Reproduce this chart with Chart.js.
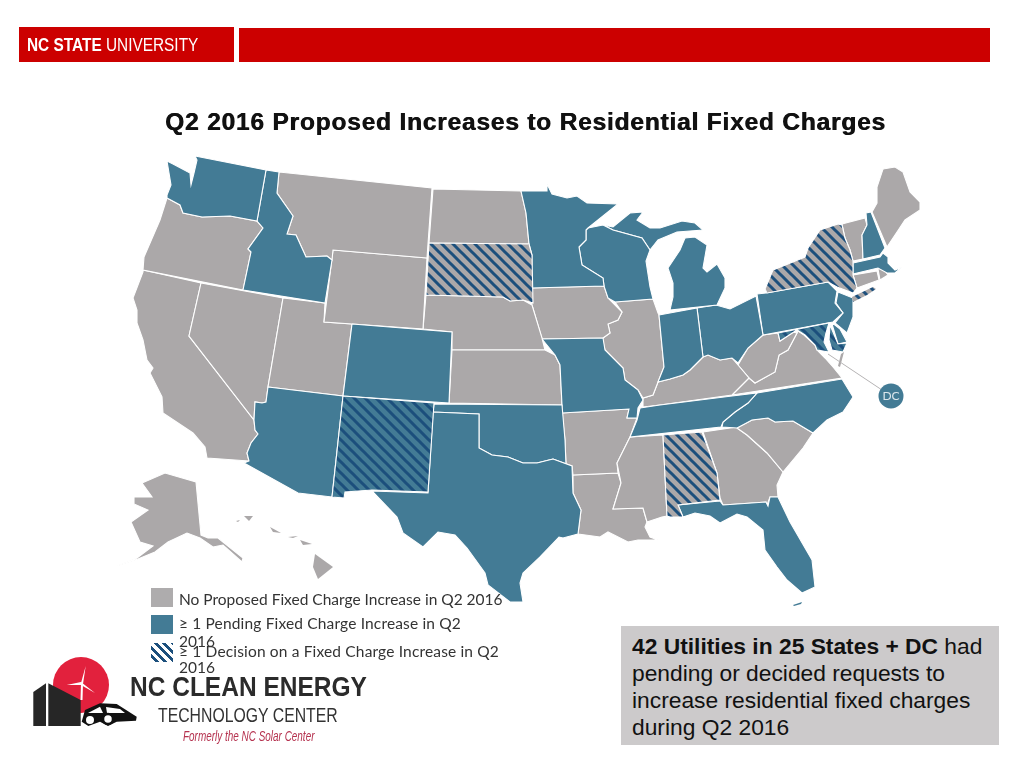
<!DOCTYPE html>
<html>
<head>
<meta charset="utf-8">
<title>Q2 2016 Proposed Increases to Residential Fixed Charges</title>
<script src="https://cdn.jsdelivr.net/npm/chart.js@4/dist/chart.umd.min.js"></script>
<style>
    html, body { margin: 0; padding: 0; background: #fff; }
    #page { position: relative; width: 1024px; height: 768px; overflow: hidden; }
    #page > * { position: absolute; }
    canvas { left: 0; top: 0; }
    .bar { background: #cc0000; }
    .txt { white-space: nowrap; line-height: 1; transform-origin: left top; }
    #title { left: 165px; top: 108px; font: bold 24.5px "Liberation Sans", Arial, sans-serif; letter-spacing: 0.8px; color: #111; text-shadow: 0.6px 0 0 #111; }
    #ncsu { left: 27px; top: 35px; font: 18px "Liberation Sans", sans-serif; color: #fff; transform: scaleX(0.855); }
    .legendText { left: 179px; font: 15.5px Lato, sans-serif; color: #333; }
    .swatch { left: 151px; width: 22px; height: 19px; }
    #callout { left: 621px; top: 626px; width: 378px; height: 119px; background: #cccacb; }
    .calloutLine { left: 632px; font: 22.8px "Liberation Sans", Arial, sans-serif; color: #111; }
    #logo { left: 0; top: 640px; }
    #cleanEnergy { left: 130px; top: 671px; font: bold 28px "Liberation Sans", sans-serif; color: #2b2b2b; transform: scaleX(0.875); }
    #techCenter { left: 158px; top: 704px; font: 20px "Liberation Sans", sans-serif; color: #333; transform: scaleX(0.79); }
    #formerly { left: 183px; top: 728px; font: italic 14px "Liberation Sans", sans-serif; color: #b5324f; transform: scaleX(0.71); }
</style>
</head>
<body>
<div id="page">
    <canvas id="map" width="1024" height="768"></canvas>
    <div class="bar" style="left:19px;top:27px;width:215px;height:35px"></div>
    <div class="bar" style="left:239px;top:28px;width:751px;height:34px"></div>
    <div class="txt" id="ncsu"><b>NC STATE</b> UNIVERSITY</div>
    <div class="txt" id="title"></div>
    <div class="swatch" style="top:588px;background:#aeacad"></div>
    <div class="swatch" style="top:615px;background:#437b95"></div>
    <div class="swatch" style="top:643px;background:repeating-linear-gradient(45deg,#fff 0 3px,#1c4f7c 3px 6px)"></div>
    <div id="callout"></div>
    <svg id="logo" width="145" height="100" viewBox="0 640 145 100">
        <circle cx="81" cy="685" r="28" fill="#e2213d"/>
        <polygon points="33.3,692 46,683.3 46,726 33.3,726" fill="#262626"/>
        <polygon points="48.3,683.3 80.7,700 80.7,726 48.3,726" fill="#262626"/>
        <polygon points="80.5,700 81,683 85.7,666 83,684 82.5,700" fill="#fff"/>
        <polygon points="66.7,685 81,682 95,693 81,685" fill="#fff"/>
        <path d="M81.7 721.7 L85 710 L100 703.3 L116.7 704 L136.7 716.7 L136 720.7 L116.7 721.7 L108 726 L100 721.7 L88.3 726 Z" fill="#111"/>
        <path d="M88 713 L100 706.7 L103 713 Z M106 707 L120 709 L125 713 L107 713 Z" fill="#fff"/>
        <circle cx="90" cy="720" r="4" fill="#fff"/>
        <circle cx="108" cy="719" r="5" fill="#fff" stroke="#111" stroke-width="2.5"/>
    </svg>
    <div class="txt" id="cleanEnergy">NC CLEAN ENERGY</div>
    <div class="txt" id="techCenter">TECHNOLOGY CENTER</div>
    <div class="txt" id="formerly">Formerly the NC Solar Center</div>
</div>
<script>
// state outlines (map units = picture pixels)
const WA = [[195,156],[266,170],[257,221],[230,216],[202,217],[183,213],[180,205],[167,198],[167,195],[171,185],[167,161],[173,164],[190,173],[191,185],[194,173],[197,160]];
const ID = [[266,170],[279,172],[277,193],[293,216],[287,234],[296,235],[306,257],[327,256],[332,260],[325,303],[243,290],[251,252],[248,249],[263,228],[257,221]];
const OR = [[167,198],[180,205],[183,213],[202,217],[230,216],[257,221],[263,228],[248,249],[251,252],[243,290],[143,270],[144,257],[160,220]];
const MT = [[279,172],[432,188],[427,258],[333,250],[332,260],[327,256],[306,257],[296,235],[287,234],[293,216],[277,193]];
const WY = [[333,250],[427,258],[423,329],[324,322]];
const UT = [[283,298],[325,303],[324,322],[352,324],[343,396],[268,387]];
const NV = [[201,283],[283,298],[268,387],[266,402],[262,403],[255,402],[254,420],[189,336]];
const CA = [[143,270],[201,283],[189,336],[254,420],[255,430],[258,434],[251,443],[247,453],[249,461],[207,458],[205,447],[193,433],[163,413],[162,397],[150,373],[153,368],[147,360],[143,340],[137,323],[137,310],[133,298],[143,272]];
const AZ = [[268,387],[343,396],[332,497],[298,493],[244,463],[249,461],[247,453],[251,443],[258,434],[255,430],[254,420],[255,402],[262,403],[266,402]];
const CO = [[352,324],[452,332],[449,403],[343,396]];
const NM = [[343,396],[434,403],[428,492],[372,490],[345,492],[344,498],[332,497]];
const TX = [[433,412],[479,414],[479,448],[492,455],[508,457],[523,463],[537,463],[553,459],[572,466],[573,493],[581,510],[578,534],[563,538],[559,537],[540,557],[523,573],[520,583],[523,602],[510,602],[488,585],[485,573],[467,548],[455,535],[438,532],[423,547],[403,533],[397,517],[372,491],[428,493]];
const OK = [[434,404],[562,405],[565,440],[566,465],[572,466],[553,459],[537,463],[523,463],[508,457],[492,455],[479,448],[479,414],[433,412]];
const KS = [[452,350],[545,350],[555,355],[560,365],[562,405],[449,403]];
const NE = [[426,295],[503,297],[510,301],[523,300],[532,305],[542,338],[545,350],[452,350],[452,332],[423,329]];
const SD = [[429,243],[529,244],[532,255],[533,303],[523,300],[510,301],[503,297],[426,295]];
const ND = [[433,189],[521,191],[526,213],[529,244],[429,243]];
const MN = [[521,191],[547,191],[547,184],[552,194],[567,198],[577,196],[587,203],[618,204],[588,228],[586,230],[586,240],[579,247],[582,265],[603,278],[604,286],[531,288],[532,255],[529,244],[526,213]];
const IA = [[531,288],[604,286],[608,298],[622,312],[618,320],[608,324],[610,333],[603,338],[542,339],[532,305]];
const WI = [[588,228],[603,225],[613,230],[642,238],[650,250],[646,261],[650,287],[653,299],[615,302],[608,298],[604,286],[603,278],[582,265],[579,247],[586,240],[586,230]];
const MIU = [[603,225],[613,227],[630,213],[643,212],[637,220],[650,228],[660,228],[682,221],[695,223],[703,230],[677,232],[658,240],[650,250],[642,238],[613,230]];
const MIL = [[685,238],[695,237],[707,245],[703,268],[707,272],[717,264],[725,278],[725,288],[717,305],[670,310],[673,297],[673,283],[668,268],[680,250]];
const IL = [[615,302],[653,299],[658,313],[659,315],[664,367],[658,382],[653,395],[643,398],[638,390],[625,380],[623,368],[605,350],[603,342],[603,338],[610,333],[608,324],[618,320],[622,312]];
const IN = [[659,315],[697,308],[703,357],[690,370],[683,375],[670,379],[658,382],[664,367]];
const OH = [[697,308],[716,305],[730,309],[756,296],[763,335],[748,348],[738,363],[732,358],[720,360],[708,355],[703,357]];
const KY = [[708,355],[720,360],[732,358],[738,365],[749,378],[732,395],[660,405],[643,407],[643,398],[653,395],[658,382],[670,379],[683,375],[690,370],[703,357]];
const WV = [[763,335],[778,333],[780,341],[793,332],[797,333],[788,350],[779,355],[775,372],[755,383],[749,378],[738,365],[748,348]];
const VA = [[798,331],[804,335],[815,345],[817,350],[825,358],[833,367],[842,378],[732,395],[749,378],[755,383],[775,372],[779,355],[788,350],[797,333]];
const TN = [[640,408],[660,405],[732,396],[757,393],[748,403],[735,412],[723,422],[721,427],[630,437],[637,420]];
const NC = [[757,393],[842,379],[853,397],[843,412],[827,420],[813,433],[793,421],[775,422],[768,418],[752,420],[737,428],[722,427],[723,422],[735,412],[748,403]];
const SC = [[737,428],[752,420],[768,418],[775,422],[793,421],[813,433],[803,448],[783,472],[767,453],[747,435]];
const GA = [[703,432],[737,427],[737,428],[747,435],[767,453],[783,472],[777,485],[778,497],[770,497],[767,505],[766,502],[723,505],[720,498],[717,473]];
const AL = [[663,435],[702,432],[717,473],[720,500],[678,505],[683,517],[670,517],[667,516]];
const FL = [[678,505],[720,501],[723,505],[766,502],[768,506],[770,497],[778,497],[790,522],[812,560],[815,587],[802,593],[787,580],[777,567],[765,550],[763,530],[747,517],[737,514],[720,523],[710,516],[695,513],[683,517]];
const KEYS = [[793,605],[802,602],[801,604],[794,606]];
const MS = [[630,437],[663,435],[667,516],[662,517],[647,522],[643,508],[613,509],[621,483],[617,463]];
const AR = [[562,413],[629,409],[627,418],[637,418],[630,437],[617,463],[618,473],[573,475],[572,466],[566,465],[565,440]];
const LA = [[573,475],[618,473],[621,483],[613,509],[643,508],[647,522],[645,527],[650,537],[658,540],[638,540],[628,542],[608,532],[600,537],[578,534],[581,510],[573,493]];
const MO = [[542,339],[603,338],[605,350],[623,368],[625,380],[638,390],[643,400],[638,408],[637,418],[627,418],[629,409],[562,413],[562,405],[560,365],[555,355]];
const ME = [[883,169],[895,167],[903,172],[910,192],[920,202],[920,210],[905,220],[897,232],[887,247],[872,212],[877,203],[877,187]];
const NH = [[866,213],[871,212],[885,248],[880,255],[863,259],[862,235],[867,225]];
const VT = [[842,224],[865,218],[867,225],[862,235],[863,259],[853,261],[850,250],[845,238]];
const MA = [[853,263],[880,257],[883,253],[888,257],[888,263],[895,270],[902,267],[895,273],[887,273],[878,268],[853,274]];
const RI = [[878,269],[883,268],[888,275],[880,280]];
const CT = [[853,275],[877,271],[879,280],[857,288]];
const NY = [[838,224],[842,225],[845,238],[850,250],[853,261],[853,275],[857,288],[853,293],[837,287],[828,282],[767,293],[765,289],[773,270],[783,266],[805,257],[808,248],[820,230]];
const LI = [[852,297],[873,287],[876,289],[867,295],[853,302]];
const PA = [[757,294],[766,293],[828,282],[837,291],[835,303],[843,313],[833,322],[763,335]];
const NJ = [[838,292],[853,298],[853,317],[847,333],[835,323],[843,313],[836,303]];
const DE = [[832,324],[835,325],[840,329],[847,342],[838,344]];
const MDW = [[778,333],[829,323],[826,333],[824,342],[829,352],[817,350],[815,345],[805,335],[797,330],[780,341]];
const MDE = [[830,325],[838,344],[847,343],[843,352],[832,350],[829,340]];
const VAE = [[844,352],[840,367],[838,366],[841,354]];
const AK = [[142,483],[165,473],[196,482],[201,535],[208,538],[218,538],[243,558],[242,562],[223,545],[213,547],[200,538],[187,533],[168,542],[155,552],[138,559],[117,566],[137,558],[153,546],[140,542],[131,522],[148,510],[134,504],[134,497],[152,497]];
const HI1 = [[315,554],[333,567],[318,579],[313,567]];
const HI2 = [[300,540],[312,544],[303,545]];
const HI3 = [[270,527],[281,533],[273,532]];
const HI4 = [[244,516],[253,516],[249,521]];
const HI5 = [[236,521],[240,520],[238,522]];
const HI6 = [[288,537],[298,536],[293,538]];

const noIncrease = [OR, MT, WY, UT, NV, CA, KS, NE, ND, IA, IL, KY, WV, VA, SC, GA, MS, AR, LA, ME, VT, RI, CT, AK];
const pending = [WA, ID, AZ, CO, TX, OK, MN, WI, MIU, MIL, IN, OH, TN, NC, FL, MO, NH, MA, PA, NJ, DE];
const decidedGray = [SD, NY, AL];
const decidedTeal = [NM, MDW, MDE];
// too small to carry a white outline
const grayIslands = [VAE, HI1, HI2, HI3, HI4, HI5, HI6];
const tealIslands = [KEYS];
const hatchedIslands = [LI];

const dcPoint = [[891, 396]];
const dcLeader = [[828, 354], [891, 396]];
const dcLabel = "DC";

const legendLabels = [
    "No Proposed Fixed Charge Increase in Q2 2016",
    "\u2265 1 Pending Fixed Charge Increase in Q2",
    "2016",
    "\u2265 1 Decision on a Fixed Charge Increase in Q2",
    "2016",
];
const calloutLead = "42 Utilities in 25 States + DC";
const calloutLines = [
    " had",
    "pending or decided requests to",
    "increase residential fixed charges",
    "during Q2 2016",
];

const legendTops = [590, 614, 632, 642, 658];
const legendSpacing = [0, 0.16, 0, 0.16, 0];
const calloutTops = [633, 660, 687, 714];

const GRAY = "#aba8a9";
const TEAL = "#437b95";
const NAVY = "#1c4f7c";

document.getElementById("title").textContent = "Q2 2016 Proposed Increases to Residential Fixed Charges";

function addLine(text, top, cls) {
    const el = document.createElement("div");
    el.className = "txt " + cls;
    el.style.top = top + "px";
    el.textContent = text;
    document.getElementById("page").appendChild(el);
    return el;
}
legendLabels.forEach((text, i) => {
    addLine(text, legendTops[i], "legendText").style.letterSpacing = legendSpacing[i] + "px";
});
calloutLines.forEach((text, i) => {
    const el = addLine(text, calloutTops[i], "calloutLine");
    if (i === 0) {
        const lead = document.createElement("b");
        lead.textContent = calloutLead;
        el.prepend(lead);
    }
});

function hatch(base) {
    const size = 11;
    const tile = document.createElement("canvas");
    tile.width = tile.height = size;
    const ctx = tile.getContext("2d");
    ctx.fillStyle = base;
    ctx.fillRect(0, 0, size, size);
    ctx.strokeStyle = NAVY;
    ctx.lineWidth = 3;
    ctx.beginPath();
    ctx.moveTo(-size, 0); ctx.lineTo(size, 2 * size);
    ctx.moveTo(0, 0); ctx.lineTo(size, size);
    ctx.moveTo(0, -size); ctx.lineTo(2 * size, size);
    ctx.stroke();
    return document.createElement("canvas").getContext("2d").createPattern(tile, "repeat");
}

function stateDatasets(states, fillColor, borderWidth = 1.1) {
    return states.map((outline) => ({
        data: outline.concat([outline[0]]).map(([x, y]) => ({ x, y })),
        showLine: true,
        fill: "shape",
        backgroundColor: fillColor,
        borderColor: "#ffffff",
        borderWidth,
        pointRadius: 0,
    }));
}

const dcLabelPlugin = {
    id: "dcLabel",
    afterDatasetsDraw(chart) {
        const { ctx, scales } = chart;
        ctx.save();
        ctx.font = "12px Lato, sans-serif";
        ctx.fillStyle = "#dbe6ec";
        ctx.textAlign = "center";
        ctx.textBaseline = "middle";
        ctx.fillText(dcLabel, scales.x.getPixelForValue(dcPoint[0][0]), scales.y.getPixelForValue(dcPoint[0][1]));
        ctx.restore();
    },
};

new Chart(document.getElementById("map"), {
    type: "scatter",
    data: {
        datasets: [
            {
                data: dcPoint.map(([x, y]) => ({ x, y })),
                backgroundColor: TEAL,
                borderWidth: 0,
                pointRadius: 12.5,
            },
            {
                data: dcLeader.map(([x, y]) => ({ x, y })),
                showLine: true,
                borderColor: "#b5b3b4",
                borderWidth: 1,
                pointRadius: 0,
            },
            ...stateDatasets(grayIslands, GRAY, 0),
            ...stateDatasets(tealIslands, TEAL, 0),
            ...stateDatasets(hatchedIslands, hatch(GRAY), 0),
            ...stateDatasets(decidedTeal, hatch(TEAL)),
            ...stateDatasets(decidedGray, hatch(GRAY)),
            ...stateDatasets(pending, TEAL),
            ...stateDatasets(noIncrease, GRAY),
        ],
    },
    options: {
        responsive: false,
        animation: false,
        layout: { padding: 0, autoPadding: false },
        plugins: {
            legend: { display: false },
            title: { display: false },
            tooltip: { enabled: false },
        },
        scales: {
            x: { type: "linear", display: false, min: 0, max: 1024 },
            y: { type: "linear", display: false, min: 0, max: 768, reverse: true },
        },
    },
    plugins: [dcLabelPlugin],
});
</script>
</body>
</html>
